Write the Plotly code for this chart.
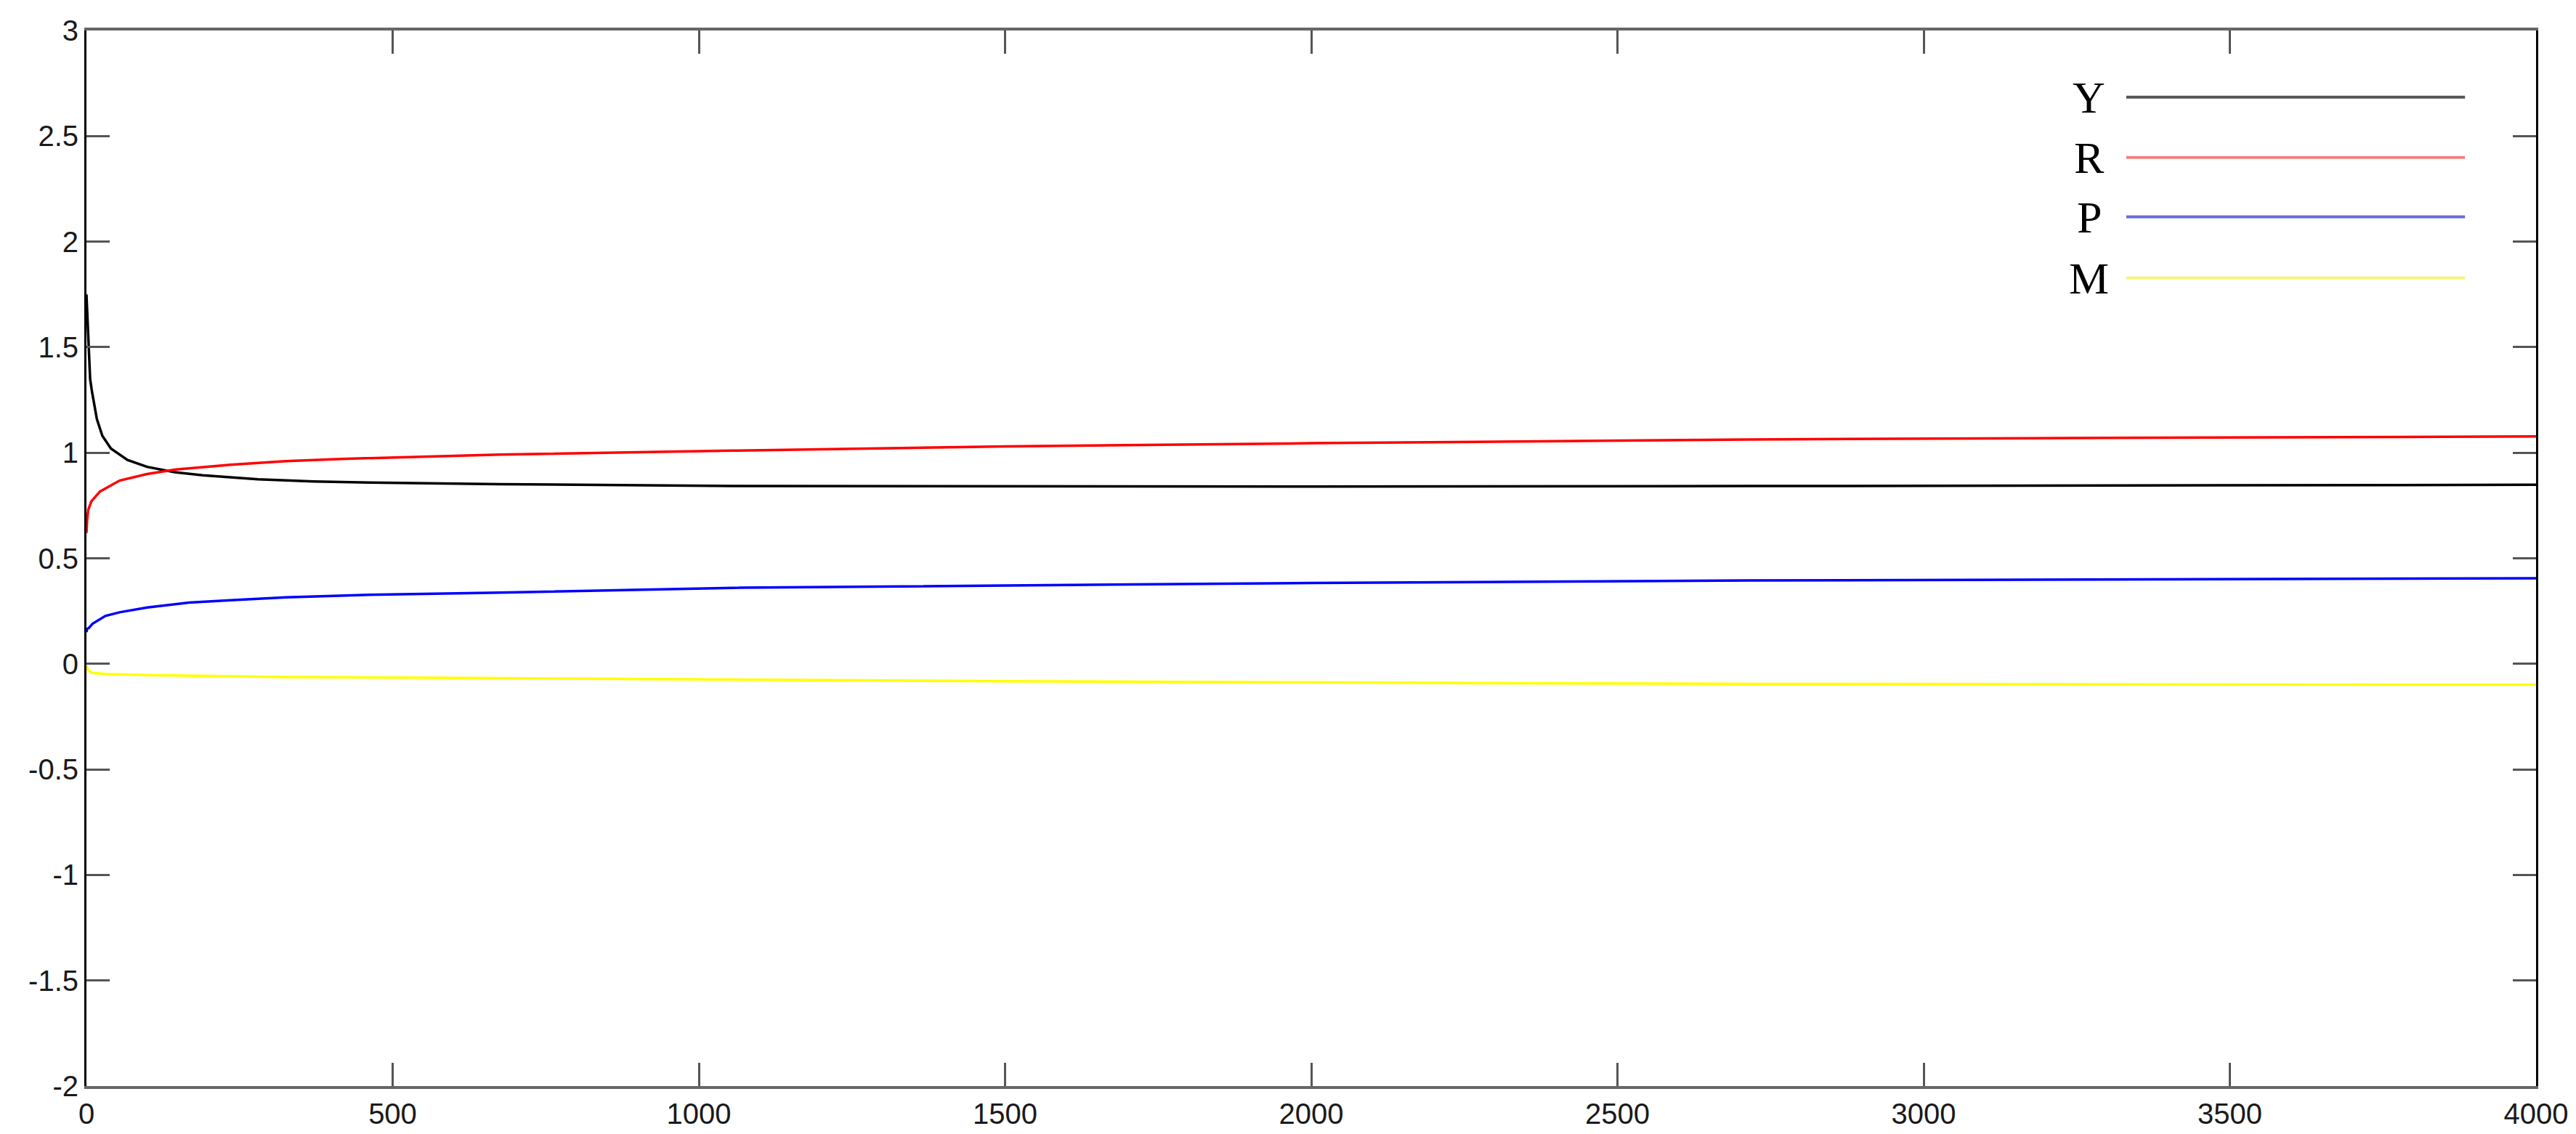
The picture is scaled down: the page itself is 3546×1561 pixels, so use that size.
import plotly.graph_objects as go

# series
y_x = [0, 1, 2, 4, 6, 9, 13, 17, 26, 40, 67, 99, 144, 190, 280, 371, 462, 675,
       1055, 1500, 2000, 2715, 3300, 4000]
y_vals = [1.75, 1.68, 1.56, 1.42, 1.35, 1.29, 1.22, 1.16, 1.08, 1.02, 0.966, 0.933,
          0.908, 0.893, 0.874, 0.864, 0.859, 0.851, 0.842, 0.840, 0.840, 0.842,
          0.845, 0.848]

r_x = [0, 1, 3, 8, 22, 54, 99, 144, 235, 326, 417, 507, 675, 1055, 1500, 2000,
       2715, 3300, 4000]
r_vals = [0.62, 0.68, 0.73, 0.77, 0.816, 0.868, 0.899, 0.92, 0.943, 0.96, 0.971,
          0.979, 0.991, 1.01, 1.03, 1.045, 1.063, 1.07, 1.077]

p_x = [0, 1, 4, 10, 31, 54, 99, 167, 235, 326, 462, 675, 1055, 1500, 2000, 2715,
       3300, 4000]
p_vals = [0.15, 0.165, 0.17, 0.19, 0.227, 0.244, 0.267, 0.29, 0.301, 0.315, 0.327,
          0.337, 0.36, 0.372, 0.383, 0.395, 0.4, 0.405]

m_x = [0, 3, 8, 30, 99, 326, 675, 1055, 1500, 2000, 2715, 3300, 4000]
m_vals = [-0.01, -0.03, -0.042, -0.048, -0.053, -0.0625, -0.068, -0.075, -0.082,
          -0.088, -0.095, -0.097, -0.099]

names = ["Y", "R", "P", "M"]
colors = ["#000000", "#ff0000", "#0000ff", "#ffff00"]
legend_colors = ["#555555", "#f08080", "#6a6ad8", "#f4f480"]
series = [(y_x, y_vals), (r_x, r_vals), (p_x, p_vals), (m_x, m_vals)]

x_ticks = list(range(0, 4001, 500))
y_ticks = [-2, -1.5, -1, -0.5, 0, 0.5, 1, 1.5, 2, 2.5, 3]
y_labels = ["-2", "-1.5", "-1", "-0.5", "0", "0.5", "1", "1.5", "2", "2.5", "3"]

fig = go.Figure()
for name, color, (xs, ys) in zip(names, colors, series):
    fig.add_trace(go.Scatter(x=xs, y=ys, mode="lines", name=name,
                             line=dict(color=color, width=3.5)))

# legend drawn by hand: text sits left of the sample line
legend_y = [0.9368, 0.8797, 0.8234, 0.7656]
for name, color, ly in zip(names, legend_colors, legend_y):
    fig.add_shape(type="line", xref="paper", yref="paper",
                  x0=0.8327, x1=0.971, y0=ly, y1=ly,
                  line=dict(color=color, width=4))
    fig.add_annotation(x=0.8176, y=ly, xref="paper", yref="paper",
                       text=name, showarrow=False, xanchor="center",
                       yanchor="middle",
                       font=dict(family="Liberation Serif, Times New Roman, serif",
                                 size=62, color="#000000"))

axis_font = dict(family="Liberation Sans, Arial, sans-serif", size=40,
                 color="#1a1a1a")
fig.update_xaxes(range=[0, 4000], tickvals=x_ticks, ticks="inside", ticklen=32,
                 tickwidth=3, tickcolor="#555555", showline=True,
                 linecolor="#666666", linewidth=4, mirror="ticks",
                 showgrid=False, zeroline=False, tickfont=axis_font)
fig.update_yaxes(range=[-2, 3], tickvals=y_ticks, ticktext=y_labels,
                 ticks="inside", ticklen=32, tickwidth=3, tickcolor="#555555",
                 showline=True, linecolor="#000000", linewidth=3,
                 mirror="ticks", showgrid=False, zeroline=False,
                 tickfont=axis_font)
fig.update_layout(width=3546, height=1561, showlegend=False,
                  plot_bgcolor="white", paper_bgcolor="white",
                  margin=dict(l=111, r=63, t=32, b=74))

fig.write_html("out.html")
